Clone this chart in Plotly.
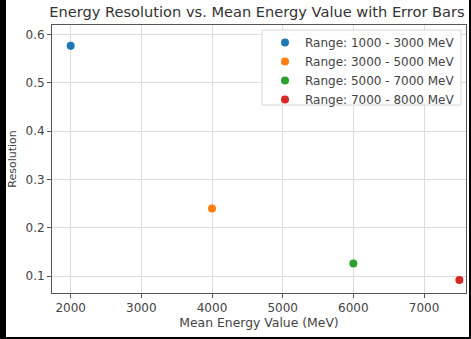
import plotly.graph_objects as go

labels = ["Range: 1000 - 3000 MeV", "Range: 3000 - 5000 MeV",
          "Range: 5000 - 7000 MeV", "Range: 7000 - 8000 MeV"]
mean_energy = [2000, 4000, 6000, 7500]
resolution = [0.577, 0.240, 0.126, 0.092]
errors = [0.008, 0.004, 0.003, 0.003]
colors = ["#1f77b4", "#ff7f0e", "#2ca02c", "#d62728"]
x_ticks = [2000, 3000, 4000, 5000, 6000, 7000]
y_ticks = [0.1, 0.2, 0.3, 0.4, 0.5, 0.6]

fig = go.Figure()
for lab, x, y, e, c in zip(labels, mean_energy, resolution, errors, colors):
    fig.add_trace(go.Scatter(
        x=[x], y=[y], mode="markers", name=lab,
        marker=dict(color=c, size=8),
        error_y=dict(type="data", array=[e], color=c, thickness=1.5, width=0),
    ))

W, H = 471, 339
L, R, T, B = 52, 466, 25, 293
pw, ph = R - L, B - T


def px_x(p):
    return (p - L) / pw


def px_y(p):
    return (B - p) / ph


black = dict(fillcolor="black", line=dict(width=0), layer="above",
             type="rect", xref="paper", yref="paper")
font = "DejaVu Sans, sans-serif"
fig.update_layout(
    width=W, height=H,
    margin=dict(l=L, r=W - R, t=T, b=H - B),
    paper_bgcolor="black",
    plot_bgcolor="white",
    font=dict(family=font, size=12, color="#444"),
    title=dict(text="Energy Resolution vs. Mean Energy Value with Error Bars",
               x=257 / W, xanchor="center", y=1 - 12 / H, yanchor="middle",
               font=dict(size=14.6, color="#333")),
    legend=dict(x=px_x(460), y=px_y(28), xanchor="right", yanchor="top",
                bgcolor="rgba(0,0,0,0)", borderwidth=0,
                font=dict(size=12, color="#444"), itemsizing="trace",
                tracegroupgap=0),
    shapes=[
        dict(type="rect", xref="paper", yref="paper", layer="below",
             x0=px_x(6), x1=px_x(469), y0=px_y(337), y1=px_y(0),
             fillcolor="white", line=dict(width=0)),
        dict(type="rect", xref="paper", yref="paper", layer="above",
             x0=px_x(262), x1=px_x(461), y0=px_y(105), y1=px_y(30),
             fillcolor="rgba(255,255,255,0.85)", line=dict(color="#d8d8d8", width=1)),
        dict(black, x0=px_x(0), x1=px_x(6), y0=px_y(H), y1=px_y(0)),
        dict(black, x0=px_x(0), x1=px_x(W), y0=px_y(H), y1=px_y(337)),
        dict(black, x0=px_x(469), x1=px_x(W), y0=px_y(H), y1=px_y(0)),
    ],
    showlegend=True,
)
fig.update_xaxes(range=[1736, 7594], tickvals=x_ticks, showgrid=True, gridcolor="#dcdcdc",
                 showline=True, linecolor="#555", mirror=True, ticks="outside", ticklen=4,
                 tickcolor="#555", zeroline=False, tickfont=dict(size=12),
                 title=dict(text="Mean Energy Value (MeV)", standoff=3, font=dict(size=12.4)))
fig.update_yaxes(range=[0.065, 0.62], tickvals=y_ticks, tickformat=".1f", showgrid=True,
                 gridcolor="#dcdcdc", showline=True, linecolor="#555", mirror=True,
                 ticks="outside", ticklen=4, tickcolor="#555", zeroline=False,
                 tickfont=dict(size=12),
                 title=dict(text="Resolution", standoff=6, font=dict(size=11)))

fig.write_html("out.html", config={"displayModeBar": False},
               post_script="document.body.style.margin='0';document.body.style.padding='0';")
